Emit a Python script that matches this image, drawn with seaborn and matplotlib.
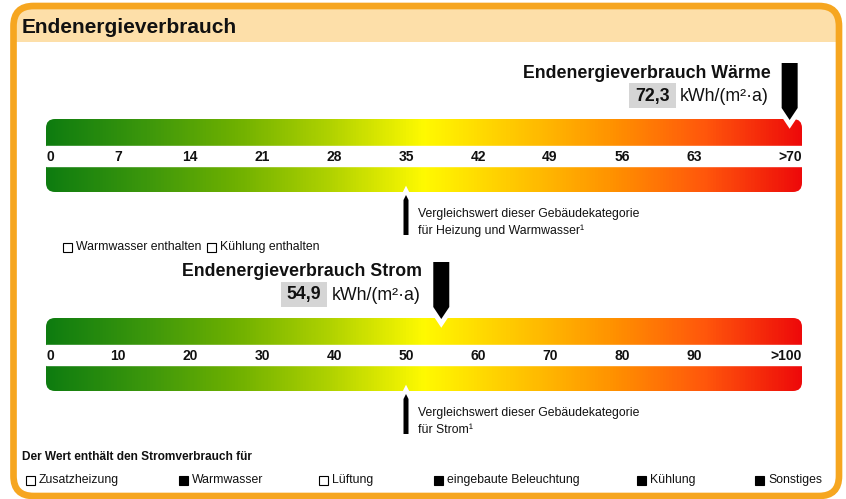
import numpy as np
import matplotlib
matplotlib.use("Agg")
import matplotlib.pyplot as plt
import seaborn as sns
from matplotlib.patches import FancyBboxPatch, Rectangle, Polygon

# ---------------- data ----------------
header_title = "Endenergieverbrauch"
unit_label = "kWh/(m²·a)"

heat_title = "Endenergieverbrauch Wärme"
heat_value = 72.3
heat_reference = 35
heat_ticks = [0, 7, 14, 21, 28, 35, 42, 49, 56, 63]
heat_tick_labels = ["0", "7", "14", "21", "28", "35", "42", "49", "56", "63"]
heat_end_label = ">70"
heat_scale_max = 73.5
heat_ref_text = ["Vergleichswert dieser Gebäudekategorie", "für Heizung und Warmwasser¹"]
heat_options = ["Warmwasser enthalten", "Kühlung enthalten"]
heat_options_checked = [False, False]

power_title = "Endenergieverbrauch Strom"
power_value = 54.9
power_reference = 50
power_ticks = [0, 10, 20, 30, 40, 50, 60, 70, 80, 90]
power_tick_labels = ["0", "10", "20", "30", "40", "50", "60", "70", "80", "90"]
power_end_label = ">100"
power_scale_max = 105
power_ref_text = ["Vergleichswert dieser Gebäudekategorie", "für Strom¹"]
power_items_title = "Der Wert enthält den Stromverbrauch für"
power_items = ["Zusatzheizung", "Warmwasser", "Lüftung", "eingebaute Beleuchtung", "Kühlung", "Sonstiges"]
power_items_checked = [False, True, False, True, True, True]

# ---------------- style ----------------
sns.set_theme(style="white")
plt.rcParams["font.family"] = ["Liberation Sans", "DejaVu Sans"]

ORANGE = "#F6A620"
HEADER = "#FDDFA9"
GRADIENT = ["#0E7C10", "#3A960C", "#6EB000", "#B0D200", "#FFFA00",
            "#FFC600", "#FF9200", "#FF560C", "#EE0A0A"]
cmap = sns.blend_palette(GRADIENT, as_cmap=True)

W, H = 846, 499
fig = plt.figure(figsize=(W / 100, H / 100), dpi=100)


def px_axes(z):
    ax = fig.add_axes([0, 0, 1, 1], zorder=z)
    ax.set_xlim(0, W)
    ax.set_ylim(H, 0)
    ax.axis("off")
    ax.patch.set_alpha(0)
    return ax


bg = px_axes(0)
ov = px_axes(5)

# frame + header
frame_fill = FancyBboxPatch((13.5, 6), 825.5, 490, boxstyle="round,pad=0,rounding_size=20",
                            facecolor="white", edgecolor="none", transform=bg.transData)
bg.add_patch(frame_fill)
hdr = Rectangle((0, 0), W, 42, facecolor=HEADER, edgecolor="none")
bg.add_patch(hdr)
hdr.set_clip_path(frame_fill)
ov.add_patch(FancyBboxPatch((13.5, 6), 825.5, 490, boxstyle="round,pad=0,rounding_size=20",
                            facecolor="none", edgecolor=ORANGE, linewidth=4.8))
ov.text(22, 27, header_title, fontsize=15, fontweight="bold", va="center", ha="left", color="#111111")

BAR_L, BAR_R = 46, 802
renderer = fig.canvas.get_renderer()


def fmt(v):
    return f"{v:.1f}".replace(".", ",")


def draw_scale(top, bottom, xmax, ticks, labels, end_label, value, ref, title, ref_text):
    ax = fig.add_axes([BAR_L / W, 1 - bottom / H, (BAR_R - BAR_L) / W, (bottom - top) / H], zorder=1)
    ax.set_xlim(0, xmax)
    ax.set_ylim(0, 1)
    ax.axis("off")
    im = ax.imshow(np.linspace(0, 1, 800)[None, :], extent=(0, xmax, 0, 1), aspect="auto",
                   cmap=cmap, interpolation="bilinear", zorder=0)
    clip = FancyBboxPatch((BAR_L, top), BAR_R - BAR_L, bottom - top,
                          boxstyle="round,pad=0,rounding_size=9", transform=bg.transData)
    im.set_clip_path(clip)
    h = bottom - top
    ax.axhspan((bottom - (top + 47)) / h, (bottom - (top + 27)) / h, color="white", zorder=2)
    ymid = (bottom - (top + 38)) / h
    for t, lab in zip(ticks, labels):
        ax.text(t, ymid, lab, ha="left" if t == 0 else "center", va="center",
                fontsize=10, fontweight="bold", color="#111111", zorder=3)
    ax.text(xmax, ymid, end_label, ha="right", va="center", fontsize=10,
            fontweight="bold", color="#111111", zorder=3)

    # value pointer
    xv = ax.transData.transform((value, 0.5))[0]
    ptr = [(xv - 8, top - 56), (xv + 8, top - 56), (xv + 8, top - 11), (xv, top + 1), (xv - 8, top - 11)]
    ov.add_patch(Polygon(ptr, closed=True, facecolor="white", edgecolor="white",
                         linewidth=7, joinstyle="miter"))
    ov.add_patch(Polygon(ptr, closed=True, facecolor="black", edgecolor="none"))
    ov.text(xv - 19, top - 46, title, ha="right", va="center", fontsize=12.8,
            fontweight="bold", color="#111111")
    ut = ov.text(xv - 21, top - 23, unit_label, ha="right", va="center", fontsize=12.8, color="#111111")
    ub = ut.get_window_extent(renderer)
    vt = ov.text(0, top - 23, fmt(value), ha="right", va="center", fontsize=12.8,
                 fontweight="bold", color="#111111", zorder=4)
    vb = vt.get_window_extent(renderer)
    box_r = ub.x0 - 4
    box_w = vb.width + 12
    vt.set_position((box_r - 6, top - 23))
    ov.add_patch(Rectangle((box_r - box_w, top - 36), box_w, 25, facecolor="#D5D5D5",
                           edgecolor="none", zorder=3))

    # reference pointer
    xr = ax.transData.transform((ref, 0.5))[0]
    rp = [(xr - 2.5, bottom + 43), (xr - 2.5, bottom + 8), (xr, bottom + 3),
          (xr + 2.5, bottom + 8), (xr + 2.5, bottom + 43)]
    ov.add_patch(Polygon(rp, closed=True, facecolor="white", edgecolor="white",
                         linewidth=6, joinstyle="miter"))
    ov.add_patch(Polygon(rp, closed=True, facecolor="black", edgecolor="none"))
    for i, line in enumerate(ref_text):
        ov.text(xr + 12, bottom + 22 + 17 * i, line, ha="left", va="center",
                fontsize=8.8, color="#111111")
    return ax


draw_scale(119, 192, heat_scale_max, heat_ticks, heat_tick_labels, heat_end_label,
           heat_value, heat_reference, heat_title, heat_ref_text)
draw_scale(318, 391, power_scale_max, power_ticks, power_tick_labels, power_end_label,
           power_value, power_reference, power_title, power_ref_text)


def checkbox(x, y, checked, label):
    ov.add_patch(Rectangle((x, y - 4.5), 9, 9, facecolor="black" if checked else "white",
                           edgecolor="black", linewidth=0.8))
    t = ov.text(x + 13, y, label, ha="left", va="center", fontsize=8.8, color="#111111")
    return t.get_window_extent(renderer).x1


# heat options row
xo = 63
for lab, chk in zip(heat_options, heat_options_checked):
    x1 = checkbox(xo, 247, chk, lab)
    xo = x1 + 6

# power items
ov.text(22, 457, power_items_title, ha="left", va="center", fontsize=8.6,
        fontweight="bold", color="#111111")
item_x = [26, 179, 319, 434, 637, 755]
for x, lab, chk in zip(item_x, power_items, power_items_checked):
    checkbox(x, 480, chk, lab)

fig.savefig("out.png", dpi=100)
